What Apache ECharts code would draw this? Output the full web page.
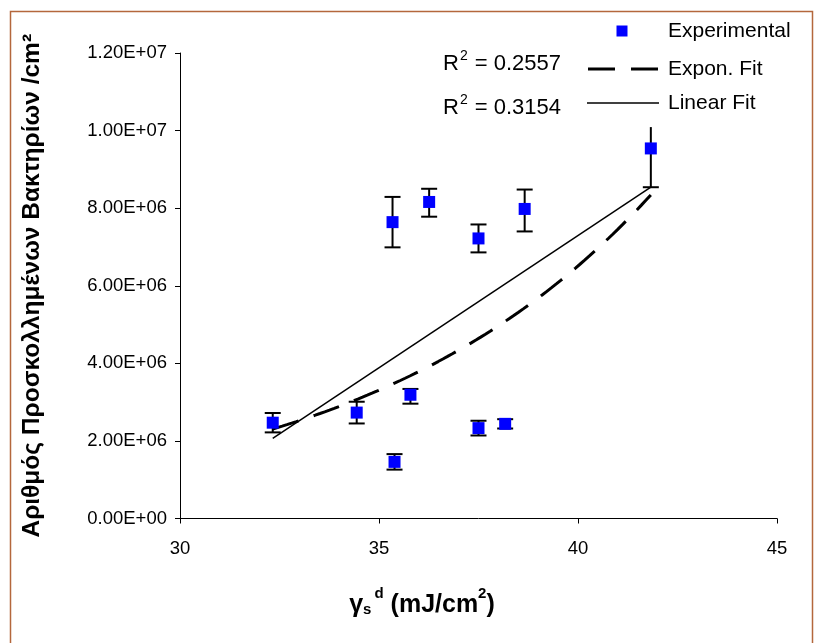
<!DOCTYPE html>
<html>
<head>
<meta charset="utf-8">
<script src="https://cdn.jsdelivr.net/npm/echarts@6/dist/echarts.min.js"></script>
<style>
  html, body { margin: 0; padding: 0; background: #ffffff; }
  #chart { width: 815px; height: 643px; }
</style>
</head>
<body>
<div id="chart"></div>
<script>
// Dispersive component of surface energy, γs^d (mJ/cm²)
const gammaSd = [32.33, 34.44, 35.34, 35.39, 35.79, 36.26, 37.50, 37.50, 38.17, 38.66, 41.83];
// Adhered bacteria per cm²
const adhered = [2.47e6, 2.73e6, 7.64e6, 1.46e6, 3.19e6, 8.16e6, 7.22e6, 2.33e6, 2.44e6, 7.98e6, 9.54e6];
// Error bar extents above / below each point
const errUp   = [0.25e6, 0.28e6, 0.65e6, 0.20e6, 0.15e6, 0.34e6, 0.36e6, 0.19e6, 0.12e6, 0.50e6, 0.55e6];
const errDown = [0.25e6, 0.28e6, 0.65e6, 0.20e6, 0.23e6, 0.38e6, 0.36e6, 0.19e6, 0.12e6, 0.58e6, 1.00e6];
const topCap  = [true, true, true, true, true, true, true, true, true, true, false];

const r2Values = ['0.2557', '0.3154'];
const seriesNames = ['Experimental', 'Expon. Fit', 'Linear Fit'];
const xMin = 30, xMax = 45, xStep = 5;
const yMin = 0, yMax = 1.2e7, yStep = 2e6;

const FONT = '"Liberation Sans", Arial, sans-serif';

// Least-squares fits (linear, and exponential via log-linear regression)
function regress(xs, ys) {
  const n = xs.length;
  const mx = xs.reduce((a, b) => a + b, 0) / n;
  const my = ys.reduce((a, b) => a + b, 0) / n;
  let sxy = 0, sxx = 0;
  for (let i = 0; i < n; i++) { sxy += (xs[i] - mx) * (ys[i] - my); sxx += (xs[i] - mx) ** 2; }
  const slope = sxy / sxx;
  return { slope, intercept: my - slope * mx };
}
const lin = regress(gammaSd, adhered);
const expo = regress(gammaSd, adhered.map(v => Math.log(v)));
const fitLo = Math.min(...gammaSd), fitHi = Math.max(...gammaSd);
const linearFit = [fitLo, fitHi].map(x => [x, lin.intercept + lin.slope * x]);
const expFit = [];
for (let k = 0; k <= 80; k++) {
  const x = fitLo + (fitHi - fitLo) * k / 80;
  expFit.push([x, Math.exp(expo.intercept + expo.slope * x)]);
}

function sci(v) {
  if (v === 0) return '0.00E+00';
  const e = Math.floor(Math.log10(Math.abs(v)) + 1e-9);
  const m = v / Math.pow(10, e);
  return m.toFixed(2) + 'E' + (e < 0 ? '-' : '+') + String(Math.abs(e)).padStart(2, '0');
}

const points = gammaSd.map((x, i) => [x, adhered[i]]);
const bars = gammaSd.map((x, i) => [x, adhered[i] - errDown[i], adhered[i] + errUp[i], topCap[i] ? 1 : 0]);

const chart = echarts.init(document.getElementById('chart'), null, { renderer: 'canvas' });

const boldRich = (size, va, extra) => Object.assign(
  { fontSize: size, fontWeight: 'bold', fontFamily: FONT, color: '#000', verticalAlign: va }, extra || {});

// R² labels with a raised "2"
function r2Text(val, top) {
  return {
    type: 'text', left: 443, top: top,
    style: {
      text: '{r|R}{p|2}{r| = ' + val + '}',
      rich: {
        r: { fontSize: 22, fontFamily: FONT, fill: '#000', verticalAlign: 'bottom', lineHeight: 26 },
        p: { fontSize: 14, fontFamily: FONT, fill: '#000', verticalAlign: 'top', lineHeight: 26, padding: [0, 1, 0, 1] }
      }
    }
  };
}

const legendFont = { fontSize: 21, fontFamily: FONT, fill: '#000', verticalAlign: 'middle', align: 'left' };

chart.setOption({
  animation: false,
  backgroundColor: '#ffffff',
  grid: { left: 180, right: 38, top: 53, bottom: 124.5, containLabel: false },
  xAxis: {
    type: 'value', min: xMin, max: xMax, interval: xStep,
    axisLine: { lineStyle: { color: '#000', width: 1 } },
    axisTick: { show: true, length: 5, lineStyle: { color: '#000' } },
    splitLine: { show: false },
    axisLabel: { color: '#000', fontSize: 18.5, fontFamily: FONT, margin: 21 },
    name: '{g|\u03B3}{s|s}{d|d}{g| (mJ/cm}{q|2}{g|)}',
    nameLocation: 'middle', nameGap: 68,
    nameTextStyle: {
      padding: [0, 113, 0, 0],
      rich: {
        g: boldRich(25, 'bottom', { lineHeight: 31 }),
        s: boldRich(15, 'bottom', { lineHeight: 26 }),
        d: boldRich(15, 'top', { lineHeight: 31, padding: [0, 0, 0, 3] }),
        q: boldRich(15, 'top', { lineHeight: 31 })
      }
    }
  },
  yAxis: {
    type: 'value', min: yMin, max: yMax, interval: yStep,
    axisLine: { show: true, lineStyle: { color: '#000', width: 1 } },
    axisTick: { show: true, length: 5, lineStyle: { color: '#000' } },
    splitLine: { show: false },
    axisLabel: { color: '#000', fontSize: 18.5, fontFamily: FONT, margin: 13, formatter: sci },
    name: 'Αριθμός Προσκολλημένων Βακτηρίων /cm\u00B2',
    nameLocation: 'middle', nameRotate: 90, nameGap: 135,
    nameTextStyle: { color: '#000', fontSize: 24.5, fontWeight: 'bold', fontFamily: FONT }
  },
  graphic: [
    {
      type: 'rect', silent: true, z: 100,
      shape: { x: 10.5, y: 11.5, width: 802, height: 640 },
      style: { fill: 'none', stroke: '#B4673C', lineWidth: 1.5 }
    },
    r2Text(r2Values[0], 49),
    r2Text(r2Values[1], 93),
    // legend: Experimental
    { type: 'rect', shape: { x: 616.5, y: 25.5, width: 11, height: 11 }, style: { fill: '#0000FF' } },
    { type: 'text', x: 668, y: 31, style: Object.assign({ text: seriesNames[0] }, legendFont) },
    // legend: Expon. Fit
    { type: 'line', shape: { x1: 588, y1: 69, x2: 659, y2: 69 }, style: { stroke: '#000', lineWidth: 3, lineDash: [27, 16] } },
    { type: 'text', x: 668, y: 69, style: Object.assign({ text: seriesNames[1] }, legendFont) },
    // legend: Linear Fit
    { type: 'line', shape: { x1: 587, y1: 103, x2: 659, y2: 103 }, style: { stroke: '#000', lineWidth: 1.5 } },
    { type: 'text', x: 668, y: 103, style: Object.assign({ text: seriesNames[2] }, legendFont) }
  ],
  series: [
    {
      name: seriesNames[2], type: 'line', data: linearFit, symbol: 'none',
      lineStyle: { color: '#000', width: 1.5 }, z: 2
    },
    {
      name: seriesNames[1], type: 'line', data: expFit, symbol: 'none',
      lineStyle: { color: '#000', width: 3, type: [27, 16] }, z: 2
    },
    {
      name: 'errors', type: 'custom', data: bars, z: 3,
      renderItem(params, api) {
        const x = api.value(0);
        const lo = api.coord([x, api.value(1)]);
        const hi = api.coord([x, api.value(2)]);
        const half = 8;
        const st = { stroke: '#000', lineWidth: 2 };
        const kids = [
          { type: 'line', shape: { x1: hi[0], y1: hi[1], x2: lo[0], y2: lo[1] }, style: st },
          { type: 'line', shape: { x1: lo[0] - half, y1: lo[1], x2: lo[0] + half, y2: lo[1] }, style: st }
        ];
        if (api.value(3)) {
          kids.push({ type: 'line', shape: { x1: hi[0] - half, y1: hi[1], x2: hi[0] + half, y2: hi[1] }, style: st });
        }
        return { type: 'group', children: kids };
      }
    },
    {
      name: seriesNames[0], type: 'scatter', data: points, symbol: 'rect', symbolSize: 12,
      itemStyle: { color: '#0000FF', opacity: 1 }, z: 4
    }
  ]
});
</script>
</body>
</html>
